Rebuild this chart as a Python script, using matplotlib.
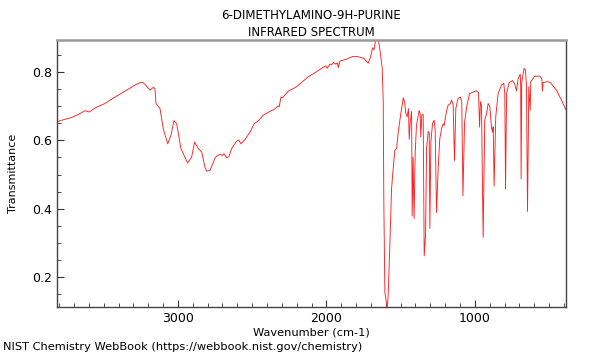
import numpy as np
import matplotlib
matplotlib.use("Agg")
import matplotlib.pyplot as plt
from matplotlib.ticker import MultipleLocator

title = "6-DIMETHYLAMINO-9H-PURINE\nINFRARED SPECTRUM"
footer = "NIST Chemistry WebBook (https://webbook.nist.gov/chemistry)"

# wavenumber (cm-1) и пропускание
wavenumber = [
    3817, 3783, 3716, 3671, 3626, 3597, 3559, 3492, 3424, 3357, 3290, 3256,
    3240, 3222, 3189, 3166, 3155, 3148, 3121, 3099, 3069, 3047, 3027, 3009,
    2980, 2935, 2908, 2888, 2863, 2840, 2818, 2807, 2784, 2751, 2739, 2717,
    2699, 2690, 2672, 2657, 2638, 2605, 2589, 2576, 2549, 2515, 2486, 2459,
    2425, 2380, 2351, 2325, 2318, 2306, 2296, 2257, 2201, 2123, 2066, 2022,
    2003, 1995, 1976, 1965, 1954, 1936, 1925, 1920, 1909, 1864, 1819, 1786,
    1747, 1718, 1702, 1689, 1680, 1669, 1658, 1649, 1635, 1624, 1617, 1613,
    1606, 1595, 1591, 1584, 1572, 1561, 1550, 1539, 1527, 1516, 1500, 1482,
    1473, 1465, 1456, 1447, 1442, 1436, 1426, 1422, 1416, 1409, 1402, 1393,
    1375, 1368, 1364, 1357, 1348, 1341, 1332, 1325, 1314, 1307, 1303, 1296,
    1285, 1274, 1267, 1258, 1247, 1236, 1224, 1213, 1206, 1192, 1180, 1164,
    1157, 1146, 1137, 1128, 1113, 1097, 1088, 1080, 1069, 1053, 1035, 990,
    975, 968, 962, 955, 944, 933, 921, 910, 899, 888, 881, 876, 870, 859,
    843, 820, 805, 798, 793, 786, 769, 746, 731, 719, 708, 694, 691, 688,
    684, 668, 659, 652, 645, 636, 627, 623, 596, 562, 549, 544, 540, 513,
    490, 450, 416, 387,
]
transmittance = [
    0.654, 0.659, 0.667, 0.676, 0.687, 0.683, 0.695, 0.708, 0.727, 0.744, 0.762, 0.769,
    0.770, 0.764, 0.747, 0.755, 0.752, 0.708, 0.693, 0.634, 0.590, 0.615, 0.658, 0.649,
    0.576, 0.534, 0.551, 0.595, 0.576, 0.566, 0.521, 0.510, 0.512, 0.548, 0.554, 0.559,
    0.556, 0.561, 0.549, 0.553, 0.576, 0.598, 0.601, 0.590, 0.602, 0.624, 0.649, 0.657,
    0.674, 0.685, 0.691, 0.701, 0.698, 0.727, 0.725, 0.744, 0.757, 0.786, 0.801, 0.814,
    0.818, 0.811, 0.823, 0.821, 0.828, 0.823, 0.827, 0.813, 0.832, 0.838, 0.846, 0.845,
    0.840, 0.826, 0.845, 0.871, 0.865, 0.891, 0.897, 0.894, 0.850, 0.811, 0.713, 0.419,
    0.154, 0.125, 0.106, 0.144, 0.301, 0.458, 0.517, 0.571, 0.576, 0.624, 0.674, 0.725,
    0.713, 0.679, 0.669, 0.693, 0.603, 0.650, 0.685, 0.379, 0.551, 0.371, 0.560, 0.644,
    0.688, 0.678, 0.610, 0.674, 0.676, 0.262, 0.321, 0.576, 0.626, 0.622, 0.342, 0.595,
    0.649, 0.659, 0.630, 0.389, 0.517, 0.605, 0.634, 0.649, 0.644, 0.683, 0.703, 0.708,
    0.718, 0.705, 0.541, 0.693, 0.723, 0.727, 0.712, 0.438, 0.654, 0.703, 0.737, 0.745,
    0.740, 0.639, 0.713, 0.700, 0.316, 0.659, 0.678, 0.708, 0.700, 0.639, 0.624, 0.640,
    0.466, 0.669, 0.737, 0.762, 0.767, 0.737, 0.458, 0.737, 0.769, 0.775, 0.765, 0.745,
    0.781, 0.794, 0.760, 0.487, 0.770, 0.811, 0.806, 0.760, 0.392, 0.757, 0.688, 0.772,
    0.788, 0.788, 0.781, 0.745, 0.769, 0.772, 0.769, 0.747, 0.718, 0.690,
]

fig = plt.figure(figsize=(6, 3.6), dpi=100)
ax = fig.add_axes([0.095, 0.147, 0.848, 0.742])
ax.plot(wavenumber, transmittance, color="#ff2020", linewidth=0.65)

ax.set_xlim(3815, 387)
ax.set_ylim(0.112, 0.894)

ax.xaxis.set_major_locator(MultipleLocator(1000))
ax.xaxis.set_minor_locator(MultipleLocator(100))
ax.yaxis.set_major_locator(MultipleLocator(0.2))
ax.yaxis.set_minor_locator(MultipleLocator(0.05))
ax.tick_params(which="both", direction="in", top=False, right=False,
               labelsize=9, colors="#333333", labelcolor="black")
ax.tick_params(which="major", length=5)
ax.tick_params(which="minor", length=3)

for side in ["left", "bottom", "right"]:
    ax.spines[side].set_color("#444444")
    ax.spines[side].set_linewidth(1.0)
ax.spines["top"].set_color("#999999")
ax.spines["top"].set_linewidth(1.8)

ax.set_xlabel("Wavenumber (cm-1)", fontsize=8.2, labelpad=2)
ax.set_ylabel("Transmittance", fontsize=8)
ax.yaxis.set_label_coords(-0.077, 0.5)
ax.set_title(title, fontsize=8.5, linespacing=1.4, pad=3)

fig.text(0.005, 0.022, footer, fontsize=8.2, ha="left", va="bottom")

fig.savefig("out.png", dpi=100)
